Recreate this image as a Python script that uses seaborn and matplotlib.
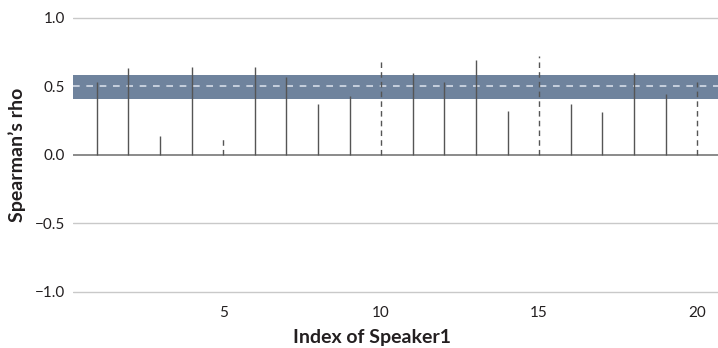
import numpy as np
import seaborn as sns
import matplotlib.pyplot as plt

# data
speaker_idx = list(range(1, 21))
rho = [0.53, 0.63, 0.14, 0.64, 0.12, 0.64, 0.57, 0.37, 0.43, 0.69,
       0.60, 0.53, 0.69, 0.32, 0.72, 0.37, 0.31, 0.60, 0.44, 0.53]
dashed = [False, False, False, False, True, False, False, False, False, True,
          False, False, False, False, True, False, False, False, False, True]
band_low, band_high, band_mid = 0.41, 0.585, 0.50
yticks = [-1.0, -0.5, 0.0, 0.5, 1.0]
xticks = [5, 10, 15, 20]

sns.set_theme(style="white")
plt.rcParams["font.family"] = ["Lato", "DejaVu Sans"]
text_col = "#231f20"

fig = plt.figure(figsize=(7.18, 3.48), dpi=100)
ax = fig.add_axes([73 / 718, 1 - 296 / 348, 1 - 73 / 718, (296 - 4) / 348])

for y in yticks:
    if y == 0:
        continue
    ax.axhline(y, color="#c9c9c9", lw=1, zorder=0)
ax.axhspan(band_low, band_high, color="#6f839d", lw=0, zorder=1)
ax.axhline(band_mid, color="#d6dde8", lw=1.2, ls=(0, (4, 4)), zorder=2)
ax.axhline(0, color="#777777", lw=1.2, zorder=2)

x = np.array(speaker_idx)
r = np.array(rho)
d = np.array(dashed)
ax.vlines(x[~d], 0, r[~d], color="#555555", lw=1, zorder=3)
ax.vlines(x[d], 0, r[d], color="#555555", lw=1, ls=(0, (4, 3)), zorder=3)

ax.set_xlim(0.25, 20.66)
ax.set_ylim(-1.03, 1.1)
ax.set_yticks(yticks)
ax.set_yticklabels([f"{v:.1f}".replace("-", "\u2212") for v in yticks])
ax.set_xticks(xticks)
ax.tick_params(axis="both", length=0, labelsize=11, colors=text_col)
ax.tick_params(axis="y", pad=6)
ax.tick_params(axis="x", pad=7)
sns.despine(ax=ax, left=True, bottom=True)

ax.set_xlabel("Index of Speaker1", fontsize=14, fontweight="bold", color=text_col)
ax.set_ylabel("Spearman\u2019s rho", fontsize=14, fontweight="bold", color=text_col)
ax.xaxis.set_label_coords((372 - 73) / (718 - 73), -(338 - 296) / 292)
ax.yaxis.set_label_coords(-(73 - 17) / 645, (296 - 155) / 292)
ax.xaxis.label.set_va("center")
ax.yaxis.label.set_va("center")

fig.savefig("out.png", dpi=100)
